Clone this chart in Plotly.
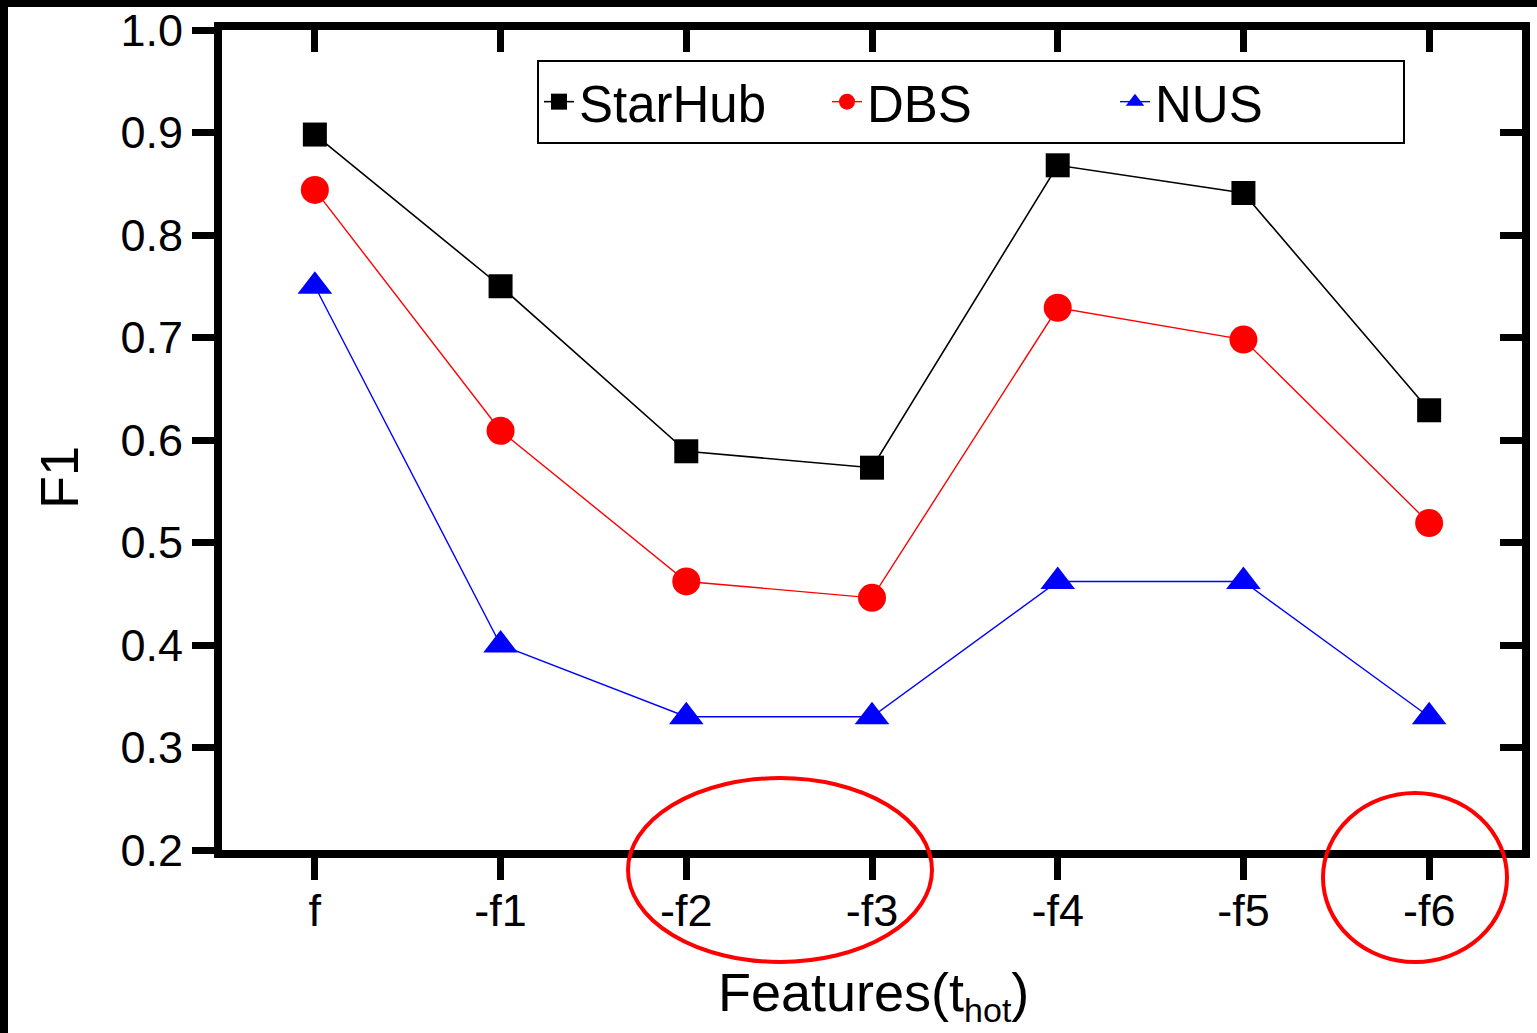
import plotly.graph_objects as go

# ---- data ----
categories = ["f", "-f1", "-f2", "-f3", "-f4", "-f5", "-f6"]
starhub = [0.898, 0.750, 0.589, 0.573, 0.868, 0.841, 0.629]
dbs = [0.844, 0.609, 0.462, 0.446, 0.729, 0.698, 0.519]
nus = [0.750, 0.400, 0.330, 0.330, 0.462, 0.462, 0.330]
y_ticks = [0.2, 0.3, 0.4, 0.5, 0.6, 0.7, 0.8, 0.9, 1.0]
y_ticktext = ["0.2", "0.3", "0.4", "0.5", "0.6", "0.7", "0.8", "0.9", "1.0"]

FONT = "Liberation Sans, Arial, sans-serif"

# plot area in pixels
W, H = 1537, 1033
L, R, T, B = 222, 15, 30, 183
PW, PH = W - L - R, H - T - B


def px_x(p):
    return (p - L) / PW


def px_y(p):
    return (H - B - p) / PH


fig = go.Figure()
fig.add_trace(go.Scatter(
    x=categories, y=starhub, name="StarHub", mode="lines+markers",
    line=dict(color="#000000", width=1.6),
    marker=dict(symbol="square", size=24, color="#000000"),
))
fig.add_trace(go.Scatter(
    x=categories, y=dbs, name="DBS", mode="lines+markers",
    line=dict(color="#FF0000", width=1.4),
    marker=dict(symbol="circle", size=28, color="#FF0000"),
))
fig.add_trace(go.Scatter(
    x=categories, y=nus, name="NUS", mode="lines+markers",
    line=dict(color="#0000FF", width=1.4),
    marker=dict(symbol="triangle-up", size=30, color="#0000FF"),
))
# invisible trace for the mirrored (inward) tick axes
fig.add_trace(go.Scatter(
    x=categories, y=[None] * len(categories), xaxis="x2", yaxis="y2",
    showlegend=False, hoverinfo="skip", mode="lines",
))

axis_common = dict(showgrid=False, zeroline=False, automargin=False)

fig.update_layout(
    template="none",
    width=W, height=H,
    margin=dict(l=L, r=R, t=T, b=B, pad=0, autoexpand=False),
    paper_bgcolor="white", plot_bgcolor="white",
    font=dict(family=FONT, color="black"),
    xaxis=dict(
        type="category", range=[-0.5, 6.5],
        showline=True, linewidth=8, linecolor="black", mirror=True,
        ticks="outside", ticklen=22, tickwidth=7, tickcolor="black",
        tickfont=dict(size=45, family=FONT, color="black"),
        ticklabelstandoff=-8,
        **axis_common,
    ),
    yaxis=dict(
        range=[0.2, 1.0], tickvals=y_ticks, ticktext=y_ticktext,
        showline=True, linewidth=8, linecolor="black", mirror=True,
        ticks="outside", ticklen=22, tickwidth=7, tickcolor="black",
        tickfont=dict(size=45, family=FONT, color="black"),
        **axis_common,
    ),
    xaxis2=dict(
        type="category", range=[-0.5, 6.5], overlaying="x", side="top",
        ticks="inside", ticklen=22, tickwidth=7, tickcolor="black",
        showticklabels=False, showline=False, **axis_common,
    ),
    yaxis2=dict(
        range=[0.2, 1.0], tickvals=y_ticks, overlaying="y", side="right",
        ticks="inside", ticklen=22, tickwidth=7, tickcolor="black",
        showticklabels=False, showline=False, **axis_common,
    ),
    legend=dict(
        orientation="h", x=px_x(537), y=px_y(60), xanchor="left", yanchor="top",
        bgcolor="white", bordercolor="black", borderwidth=2,
        font=dict(size=51, family=FONT, color="black"),
        entrywidth=243, itemwidth=30,
    ),
    showlegend=True,
)

# axis titles as annotations
fig.add_annotation(
    text="F1", xref="paper", yref="paper", x=px_x(59), y=px_y(478),
    textangle=-90, showarrow=False, xanchor="center", yanchor="middle",
    font=dict(size=54, family=FONT, color="black"),
)
fig.add_annotation(
    text="Features(t<sub><span style='font-size:34px'>hot</span></sub>)",
    xref="paper", yref="paper",
    x=px_x(873), y=px_y(995), showarrow=False, xanchor="center", yanchor="middle",
    font=dict(size=54, family=FONT, color="black"),
)

# red highlight ellipses
for (x0, y0, x1, y1) in [(628, 778, 932, 962), (1323, 793, 1507, 962)]:
    fig.add_shape(type="circle", xref="paper", yref="paper",
                  x0=px_x(x0), x1=px_x(x1), y0=px_y(y1), y1=px_y(y0),
                  line=dict(color="#FF0000", width=4), layer="above")

# black frame strips (top and left edges of the image)
fig.add_shape(type="rect", xref="paper", yref="paper",
              x0=px_x(0), x1=px_x(W), y0=px_y(7), y1=px_y(0),
              fillcolor="black", line=dict(width=0), layer="above")
fig.add_shape(type="rect", xref="paper", yref="paper",
              x0=px_x(0), x1=px_x(8), y0=px_y(H), y1=px_y(0),
              fillcolor="black", line=dict(width=0), layer="above")

fig.write_html(
    "out.html",
    config={"displayModeBar": False},
    post_script="document.body.style.margin='0px';document.body.style.overflow='hidden';",
)
